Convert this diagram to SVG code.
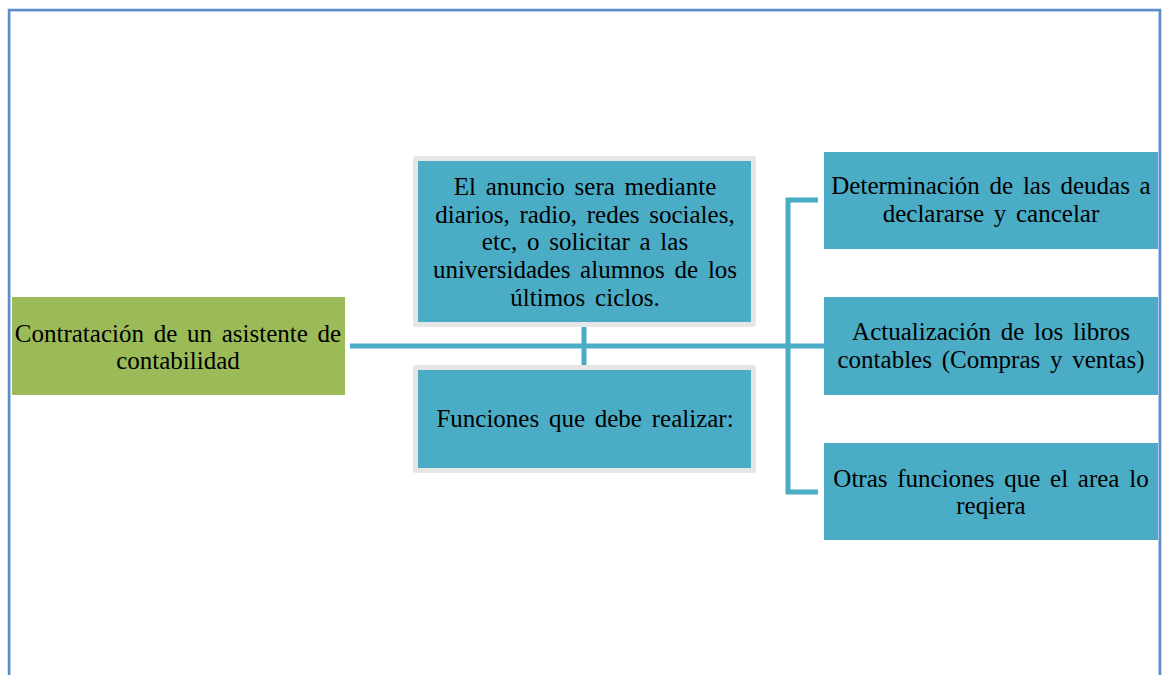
<svg xmlns="http://www.w3.org/2000/svg" width="1164" height="675" viewBox="0 0 1164 675">
<style>
.t{font-family:"Liberation Serif","Times New Roman",serif;font-size:25px;word-spacing:3.5px;fill:#000;text-anchor:middle}
.teal{fill:#4BACC6}
.grey{fill:#E6E6E6}
.conn{stroke:#4BACC6;stroke-width:5;fill:none}
</style>
<rect width="1164" height="675" fill="#fff"/>
<g id="frame">
<path d="M9 680 V10 H1160 V680" fill="none" stroke="#5B8CCB" stroke-width="2.5"/>
<path d="M10.5 680 V11.5 H1158.5 V680" fill="none" stroke="#A9C4E8" stroke-width="0.8"/>
</g>
<g id="connectors">
<path class="conn" d="M350 346 H824"/>
<path class="conn" d="M584 327 V365"/>
<path class="conn" d="M818 200 H788 V492 H818"/>
</g>
<g id="n1">
<rect x="12" y="297" width="333" height="98" fill="#9BBB59"/>
<text class="t" x="178" y="342">Contratación de un asistente de</text>
<text class="t" x="178" y="369">contabilidad</text>
</g>
<g id="n2">
<rect class="grey" x="413" y="156" width="343" height="171" rx="3"/>
<rect class="teal" x="418" y="161" width="333" height="161"/>
<text class="t" x="585" y="195">El anuncio sera mediante</text>
<text class="t" x="585" y="223">diarios, radio, redes sociales,</text>
<text class="t" x="585" y="250">etc, o solicitar a las</text>
<text class="t" x="585" y="278">universidades alumnos de los</text>
<text class="t" x="585" y="306">últimos ciclos.</text>
</g>
<g id="n3">
<rect class="grey" x="413" y="365" width="343" height="108" rx="3"/>
<rect class="teal" x="418" y="370" width="333" height="98"/>
<text class="t" x="585" y="427">Funciones que debe realizar:</text>
</g>
<g id="n4">
<rect class="teal" x="824" y="152" width="334" height="97"/>
<text class="t" x="991" y="194">Determinación de las deudas a</text>
<text class="t" x="991" y="222">declararse y cancelar</text>
</g>
<g id="n5">
<rect class="teal" x="824" y="297" width="334" height="98"/>
<text class="t" x="991" y="340">Actualización de los libros</text>
<text class="t" x="991" y="368">contables (Compras y ventas)</text>
</g>
<g id="n6">
<rect class="teal" x="824" y="443" width="334" height="97"/>
<text class="t" x="991" y="487">Otras funciones que el area lo</text>
<text class="t" x="991" y="514">reqiera</text>
</g>
</svg>
